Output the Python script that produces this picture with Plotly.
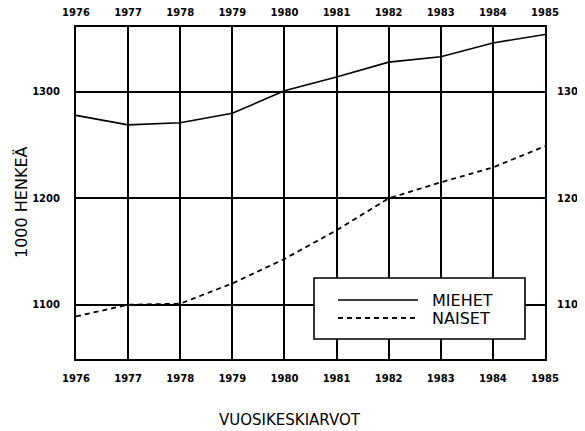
import plotly.graph_objects as go

years = [1976, 1977, 1978, 1979, 1980, 1981, 1982, 1983, 1984, 1985]
miehet = [1278, 1269, 1271, 1280, 1301, 1314, 1328, 1333, 1346, 1354]
naiset = [1089, 1100, 1101, 1120, 1143, 1170, 1200, 1215, 1229, 1249]
y_ticks = [1100, 1200, 1300]
legend_labels = ["MIEHET", "NAISET"]
x_title = "VUOSIKESKIARVOT"
y_title = "1000 HENKEÄ"

# page body has an 8px default margin, so the figure is offset by 8px
OFF = 8
W, H = 585 - OFF, 431 - OFF
L, R, T, B = 76 - OFF, 40, 27 - OFF, 72
pw, ph = W - L - R, H - T - B

def px(x):  # page pixel -> paper
    return (x - OFF - L) / pw

def py(y):
    return (H - B - (y - OFF)) / ph

tick_font = dict(family="DejaVu Sans", size=10, color="black", weight="bold")

fig = go.Figure()
fig.add_trace(go.Scatter(x=years, y=miehet, mode="lines", name=legend_labels[0],
                         line=dict(color="black", width=1.6), showlegend=False))
fig.add_trace(go.Scatter(x=years, y=naiset, mode="lines", name=legend_labels[1],
                         line=dict(color="black", width=1.8, dash="5px,4px"), showlegend=False))
# invisible trace for secondary axes
fig.add_trace(go.Scatter(x=years, y=miehet, mode="markers", xaxis="x2", yaxis="y2",
                         marker=dict(opacity=0), showlegend=False, hoverinfo="skip"))

axis_common = dict(showline=True, linecolor="black", linewidth=2, zeroline=False,
                   automargin=False)

fig.update_layout(
    template="none",
    width=W, height=H,
    margin=dict(l=L, r=R, t=T, b=B, autoexpand=False),
    paper_bgcolor="white", plot_bgcolor="white",
    showlegend=False,
    xaxis=dict(range=[1976, 1985], tickvals=years, ticktext=[str(y) for y in years],
               showgrid=True, gridcolor="black", gridwidth=1.5, mirror=True,
               tickfont=tick_font, ticks="", ticklabelstandoff=9, **axis_common),
    xaxis2=dict(range=[1976, 1985], tickvals=years, ticktext=[str(y) for y in years],
                overlaying="x", side="top", anchor="y", showgrid=False,
                tickfont=tick_font, ticks="", ticklabelstandoff=5, **axis_common),
    yaxis=dict(range=[1049, 1361], tickvals=y_ticks, showgrid=True, gridcolor="black",
               gridwidth=1.5, mirror=True, tickfont=tick_font, ticks="",
               ticklabelstandoff=12, **axis_common),
    yaxis2=dict(range=[1049, 1361], tickvals=y_ticks, overlaying="y", side="right",
                anchor="x", showgrid=False, tickfont=tick_font, ticks="",
                ticklabelstandoff=8, **axis_common),
)

# legend box
fig.add_shape(type="rect", xref="paper", yref="paper",
              x0=px(314), x1=px(525), y0=py(339), y1=py(278),
              fillcolor="white", line=dict(color="black", width=1.6), layer="above")
fig.add_shape(type="line", xref="paper", yref="paper",
              x0=px(338), x1=px(418), y0=py(300), y1=py(300),
              line=dict(color="black", width=1.5), layer="above")
fig.add_shape(type="line", xref="paper", yref="paper",
              x0=px(338), x1=px(418), y0=py(318), y1=py(318),
              line=dict(color="black", width=1.8, dash="5px,4px"), layer="above")
for lab, yy in zip(legend_labels, [300, 318]):
    fig.add_annotation(text=lab, xref="paper", yref="paper", x=px(430), y=py(yy),
                       xanchor="left", yanchor="middle", showarrow=False,
                       font=dict(family="DejaVu Sans", size=16, color="black"))

fig.add_annotation(text=x_title, xref="paper", yref="paper", x=px(290), y=py(420),
                   xanchor="center", yanchor="middle", showarrow=False,
                   font=dict(family="DejaVu Sans", size=15, color="black"))
fig.add_annotation(text=y_title, xref="paper", yref="paper", x=px(21), y=py(202),
                   xanchor="center", yanchor="middle", showarrow=False, textangle=-90,
                   font=dict(family="DejaVu Sans", size=16, color="black"))

fig.write_html("out.html")
